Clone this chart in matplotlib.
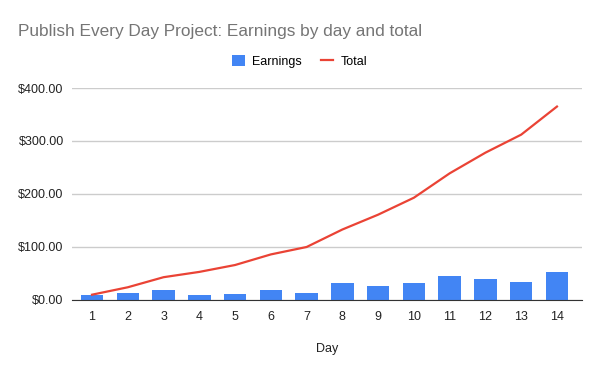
import matplotlib.pyplot as plt
import matplotlib.ticker as mticker
import numpy as np

days = [str(d) for d in range(1, 15)]
earnings = [10, 14, 18, 10, 12, 19, 14, 33, 27, 32, 46, 39, 34, 53]
total = [10, 24, 43, 53, 66, 86, 100, 133, 161, 193, 239, 278, 312, 365]

plt.rcParams['font.family'] = ['Liberation Sans', 'DejaVu Sans']

fig = plt.figure(figsize=(6, 3.71), dpi=100)
ax = fig.add_axes([0.12, 0.1914, 0.85, 0.5714])

x = np.arange(1, len(days) + 1)
bars = ax.bar(x, earnings, width=0.63, color='#4285F4', label='Earnings', zorder=2)
line, = ax.plot(x, total, color='#EA4335', linewidth=1.6, label='Total', zorder=3)

ax.set_xlim(0.44, 14.7)
ax.set_ylim(0, 400)
ax.set_xticks(x)
ax.set_xticklabels(days)
ax.set_yticks([0, 100, 200, 300, 400])
ax.yaxis.set_major_formatter(mticker.FuncFormatter(lambda v, p: f'${v:,.2f}'))
ax.tick_params(axis='both', length=0, labelsize=9, colors='#222222')
ax.tick_params(axis='x', pad=8)
ax.tick_params(axis='y', pad=6)
ax.grid(axis='y', color='#cccccc', linewidth=1, zorder=0)
for s in ['top', 'right', 'left']:
    ax.spines[s].set_visible(False)
ax.spines['bottom'].set_color('#333333')
ax.spines['bottom'].set_zorder(4)

ax.set_xlabel('Day', fontsize=9, color='#222222', labelpad=14)

fig.text(0.03, 0.915, 'Publish Every Day Project: Earnings by day and total',
         fontsize=12.4, color='#757575', va='center', ha='left')

fig.legend([bars, line], ['Earnings', 'Total'], loc='center',
           bbox_to_anchor=(0.5, 0.835), ncol=2, frameon=False,
           fontsize=9, handlelength=1.0, handleheight=1.0, columnspacing=1.5,
           handletextpad=0.6)

fig.savefig('out.png', dpi=100)
